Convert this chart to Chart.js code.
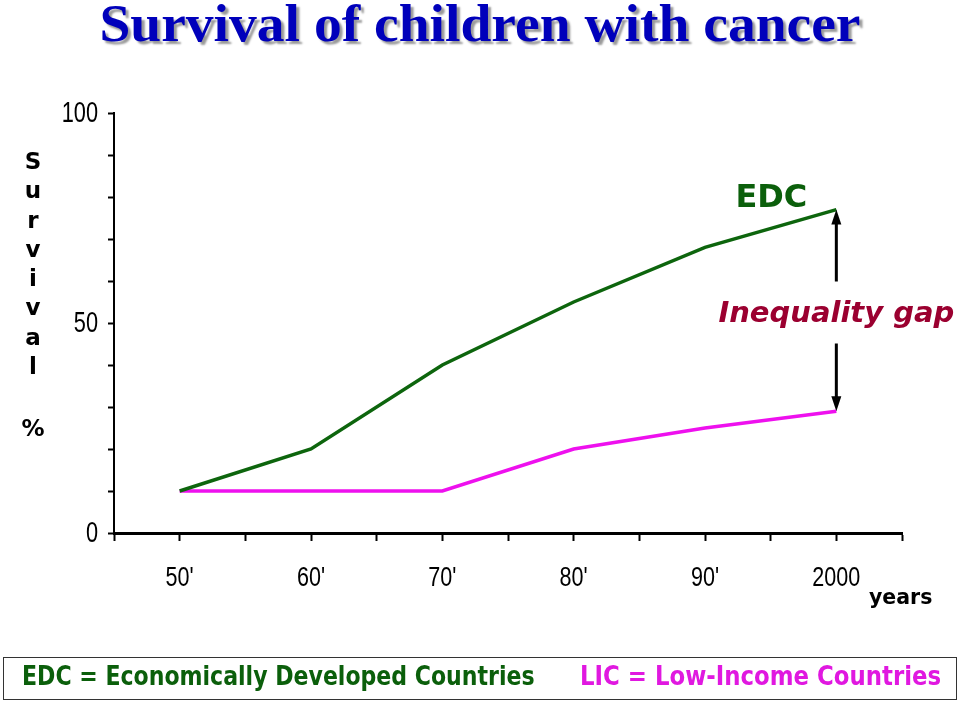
<!DOCTYPE html>
<html>
<head>
<meta charset="utf-8">
<script src="https://cdn.jsdelivr.net/npm/chart.js@4"></script>
<style>
  html, body { margin:0; padding:0; background:#fff; }
  #wrap { position:relative; width:960px; height:702px; overflow:hidden; }
  #c { position:absolute; left:0; top:0; }
  .title { position:absolute; left:0; width:960px; top:-3px; text-align:center; line-height:53px;
    font-family:"Liberation Serif", serif; font-weight:bold; font-size:53px; color:#0000bb;
    text-shadow: 3px 3px 2px #9a9a9a; transform:scaleX(1.048); transform-origin:481px 0; white-space:nowrap; }
  .ylab { position:absolute; left:19px; top:147px; width:28px; text-align:center;
    font-family:"DejaVu Sans", sans-serif; font-weight:bold; font-size:23px; line-height:29.3px; color:#000; }
  .ylab .pct { display:block; margin-top:33px; }
  .years { position:absolute; left:869px; top:585px; font-family:"DejaVu Sans", sans-serif; font-weight:bold; font-size:20.5px; color:#000; }
  .legend { position:absolute; left:3px; top:657px; width:954px; height:43px; border:1px solid #333; box-sizing:border-box; }
  .legend span { position:absolute; top:3px; font-family:"DejaVu Sans Condensed","DejaVu Sans",sans-serif; font-weight:bold; font-size:26px; white-space:nowrap; transform-origin:0 0; }
</style>
</head>
<body>
<div id="wrap">
  <canvas id="c" width="960" height="702"></canvas>
  <div class="title">Survival of children with cancer</div>
  <div class="ylab">S<br>u<br>r<br>v<br>i<br>v<br>a<br>l<span class="pct">%</span></div>
  <div class="years">years</div>
  <div class="legend">
    <span id="l1" style="left:18px;color:#0b5f0b;transform:scaleX(0.943)">EDC = Economically Developed Countries</span>
    <span id="l2" style="left:576px;color:#e018e0;transform:scaleX(0.977)">LIC = Low-Income Countries</span>
  </div>
</div>
<script>
const categories = ["50'", "60'", "70'", "80'", "90'", "2000"];
const edcValues = [10, 20, 40, 55, 68, 77];
const licValues = [10, 10, 10, 20, 25, 29];
const yTickLabels = [0, 50, 100];

const catPos = categories.map((c, i) => 2 * i + 1);
const toPoints = vals => vals.map((v, i) => ({ x: catPos[i], y: v }));

// Narrow tick labels drawn at the scales' own tick positions
const narrowTicks = {
  id: 'narrowTicks',
  afterDraw(chart) {
    const ctx = chart.ctx;
    const xs = chart.scales.x, ys = chart.scales.y;
    ctx.save();
    ctx.fillStyle = '#000';
    ctx.font = '29px "Liberation Sans", sans-serif';
    ctx.textBaseline = 'middle';
    ctx.textAlign = 'right';
    yTickLabels.forEach(v => {
      const py = ys.getPixelForValue(v);
      ctx.save(); ctx.translate(ys.right - 16, py + 1); ctx.scale(0.75, 1);
      ctx.fillText(String(v), 0, 0); ctx.restore();
    });
    ctx.textAlign = 'center';
    ctx.font = '28px "Liberation Sans", sans-serif';
    categories.forEach((c, i) => {
      const px = xs.getPixelForValue(catPos[i]);
      ctx.save(); ctx.translate(px, xs.top + 45); ctx.scale(0.77, 1);
      ctx.fillText(c, 0, 0); ctx.restore();
    });
    ctx.restore();
  }
};

const annot = {
  id: 'annot',
  afterDatasetsDraw(chart) {
    const ctx = chart.ctx;
    const xs = chart.scales.x, ys = chart.scales.y;
    const last = categories.length - 1;
    const x = xs.getPixelForValue(catPos[last]);
    const yTop = ys.getPixelForValue(edcValues[last]);
    const yBot = ys.getPixelForValue(licValues[last]);
    const yMid = (yTop + yBot) / 2 + 2;
    ctx.save();
    ctx.strokeStyle = '#000'; ctx.fillStyle = '#000'; ctx.lineWidth = 3;
    const gap = 31;
    ctx.beginPath();
    ctx.moveTo(x, yTop + 12); ctx.lineTo(x, yMid - gap);
    ctx.moveTo(x, yBot - 12); ctx.lineTo(x, yMid + gap);
    ctx.stroke();
    ctx.beginPath();
    ctx.moveTo(x, yTop); ctx.lineTo(x - 5, yTop + 15); ctx.lineTo(x + 5, yTop + 15); ctx.closePath(); ctx.fill();
    ctx.beginPath();
    ctx.moveTo(x, yBot); ctx.lineTo(x - 5, yBot - 15); ctx.lineTo(x + 5, yBot - 15); ctx.closePath(); ctx.fill();
    ctx.textAlign = 'center'; ctx.textBaseline = 'alphabetic';
    ctx.fillStyle = '#0b5f0b';
    ctx.font = 'bold 32px "DejaVu Sans", sans-serif';
    ctx.fillText('EDC', x - 65, yTop - 3);
    ctx.fillStyle = '#9b0030';
    ctx.font = 'italic bold 29px "DejaVu Sans", sans-serif';
    ctx.fillText('Inequality gap', x + 0, yMid + 10);
    ctx.restore();
  }
};

new Chart(document.getElementById('c'), {
  type: 'line',
  data: {
    datasets: [
      { label: 'EDC', data: toPoints(edcValues), borderColor: '#0d650d', borderWidth: 3.5, pointRadius: 0, tension: 0, fill: false },
      { label: 'LIC', data: toPoints(licValues), borderColor: '#ee10ee', borderWidth: 3.5, pointRadius: 0, tension: 0, fill: false }
    ]
  },
  options: {
    responsive: false,
    animation: false,
    layout: { autoPadding: false, padding: { left: 0, top: 113, right: 58, bottom: 0 } },
    plugins: { legend: { display: false }, tooltip: { enabled: false }, title: { display: false } },
    scales: {
      x: {
        type: 'linear', min: 0, max: 12,
        afterFit(s) { s.height = 169; },
        ticks: { stepSize: 1, autoSkip: false, display: false },
        grid: { drawOnChartArea: false, drawTicks: true, tickLength: 8, tickColor: '#000', tickWidth: 2 },
        border: { display: true, color: '#000', width: 3 }
      },
      y: {
        type: 'linear', min: 0, max: 100,
        afterFit(s) { s.width = 114; },
        ticks: { stepSize: 10, autoSkip: false, display: false },
        grid: { drawOnChartArea: false, drawTicks: true, tickLength: 6, tickColor: '#000', tickWidth: 2 },
        border: { display: true, color: '#000', width: 2 }
      }
    }
  },
  plugins: [annot, narrowTicks]
});
</script>
</body>
</html>
